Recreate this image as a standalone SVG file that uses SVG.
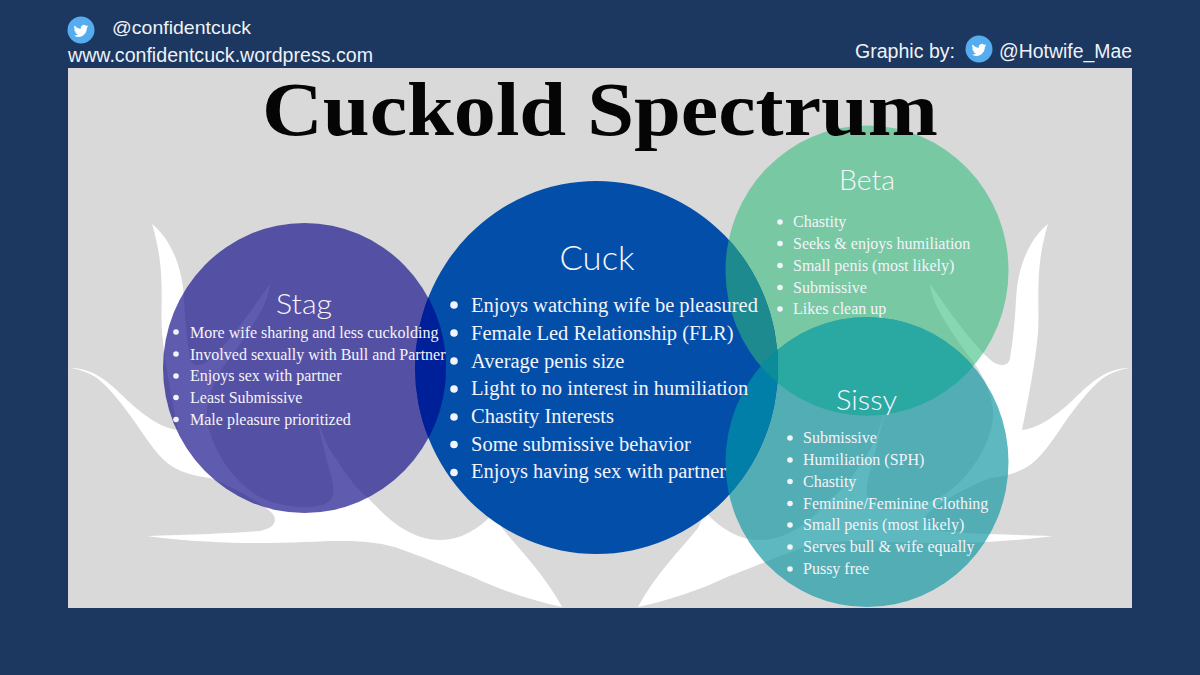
<svg xmlns="http://www.w3.org/2000/svg" width="1200" height="675" viewBox="0 0 1200 675">
  <style>
    .head { font-family: "Liberation Sans", Arial, sans-serif; fill: #eef2f8; }
    .title { font-family: "Liberation Serif", "Times New Roman", serif; font-weight: 700; fill: #050505; font-size: 76px; }
    .name { font-family: Lato, "Open Sans", sans-serif; font-weight: 300; fill: #f6f6fb; text-anchor: middle; }
    .item { font-family: "Liberation Serif", "Times New Roman", serif; fill: #f3f4fa; }
    .sm { font-size: 16px; }
    .lg { font-size: 20.5px; }
    .dot { fill: #f3f4fa; }
    .tw { fill: #55acee; }
    .bird { fill: #ffffff; }
  </style>
  <defs>
    <path id="antler" d="M152 224 C172 240 183 270 184 300 C185 320 187 340 190 358 C191 366 199 367 207 362 C228 345 255 305 270 284 C268 305 250 330 232 355 C215 375 203 405 208 425 C213 450 235 485 262 498 C280 507 310 510 325 504 C335 499 335 490 331 475 C327 462 318 425 312 397 C318 425 325 445 337 460 C348 478 358 490 367 497 C380 510 405 540 440 540 C460 540 478 530 495 512 C498 518 500 525 502 528 C520 550 545 575 562 607 C530 600 500 590 473 577 C450 568 420 556 403 550 C385 543 365 541 343 541 C300 541 240 548 147 536 C190 535 240 533 260 531 C275 528 278 520 272 513 C262 504 240 490 210 478 C195 476 183 473 173 467 C160 459 150 444 137 425 C125 408 112 390 97 378 C88 372 78 369 70 368 C92 368 107 380 127 400 C142 414 160 428 178 430 C172 400 165 365 162 333 C160 300 166 270 152 224 Z"/>
    <path id="bird" d="M23.953 4.57a10 10 0 01-2.825.775 4.958 4.958 0 002.163-2.723c-.951.555-2.005.959-3.127 1.184a4.92 4.92 0 00-8.384 4.482C7.69 8.095 4.067 6.13 1.64 3.162a4.822 4.822 0 00-.666 2.475c0 1.71.87 3.213 2.188 4.096a4.904 4.904 0 01-2.228-.616v.06a4.923 4.923 0 003.946 4.827 4.996 4.996 0 01-2.212.085 4.936 4.936 0 004.604 3.417 9.867 9.867 0 01-6.102 2.105c-.39 0-.779-.023-1.17-.067a13.995 13.995 0 007.557 2.209c9.053 0 13.998-7.496 13.998-13.985 0-.21 0-.42-.015-.63A9.935 9.935 0 0024 4.59z"/>
    <clipPath id="in-cuck"><ellipse cx="596.5" cy="367.5" rx="181.5" ry="186.5"/></clipPath>
    <clipPath id="in-beta"><ellipse cx="867" cy="270.5" rx="141.5" ry="145"/></clipPath>
  </defs>

  <rect width="1200" height="675" fill="#1c3760"/>
  <rect x="68" y="68" width="1064" height="540" fill="#d9d9d9"/>

  <!-- mirrored antlers behind the circles -->
  <g id="antlers" fill="#ffffff">
    <use href="#antler"/>
    <use href="#antler" transform="matrix(-1 0 0 1 1200 0)"/>
  </g>

  <g id="credit-left">
    <circle class="tw" cx="81" cy="30" r="13.5"/>
    <use href="#bird" class="bird" transform="translate(73.5 23.5) scale(.62)"/>
    <text class="head" x="112" y="34" font-size="18.5" textLength="139" lengthAdjust="spacingAndGlyphs">@confidentcuck</text>
    <text class="head" x="68" y="62" font-size="19.8" textLength="305" lengthAdjust="spacingAndGlyphs">www.confidentcuck.wordpress.com</text>
  </g>
  <g id="credit-right">
    <text class="head" x="855" y="58" font-size="19.5" textLength="100" lengthAdjust="spacingAndGlyphs">Graphic by:</text>
    <circle class="tw" cx="979" cy="49" r="13.5"/>
    <use href="#bird" class="bird" transform="translate(971.5 42.5) scale(.62)"/>
    <text class="head" x="999" y="58" font-size="19.5" textLength="133" lengthAdjust="spacingAndGlyphs">@Hotwife_Mae</text>
  </g>

  <g id="beta">
    <ellipse cx="867" cy="270.5" rx="141.5" ry="145" fill="#37bc80" fill-opacity=".6"/>
    <text class="name" x="867" y="190" font-size="27" textLength="56" lengthAdjust="spacingAndGlyphs">Beta</text>
    <g class="dot">
      <circle cx="780" cy="222" r="2.8"/><circle cx="780" cy="243.5" r="2.8"/><circle cx="780" cy="265.5" r="2.8"/><circle cx="780" cy="287.5" r="2.8"/><circle cx="780" cy="309" r="2.8"/>
    </g>
    <g class="item sm">
      <text x="793" y="227">Chastity</text>
      <text x="793" y="249">Seeks &amp; enjoys humiliation</text>
      <text x="793" y="270.5">Small penis (most likely)</text>
      <text x="793" y="292.5">Submissive</text>
      <text x="793" y="314">Likes clean up</text>
    </g>
  </g>

  <g id="sissy">
    <ellipse cx="867" cy="462" rx="141.5" ry="145" fill="#1a9aa4" fill-opacity=".7"/>
    <g clip-path="url(#in-beta)">
      <ellipse cx="867" cy="462" rx="141.5" ry="145" fill="#2aa9a2"/>
    </g>
    <text class="name" x="866.5" y="410" font-size="27" textLength="61" lengthAdjust="spacingAndGlyphs">Sissy</text>
    <g class="dot">
      <circle cx="790" cy="438" r="2.8"/><circle cx="790" cy="460" r="2.8"/><circle cx="790" cy="481.5" r="2.8"/><circle cx="790" cy="503.5" r="2.8"/><circle cx="790" cy="525" r="2.8"/><circle cx="790" cy="547" r="2.8"/><circle cx="790" cy="569" r="2.8"/>
    </g>
    <g class="item sm">
      <text x="803" y="443">Submissive</text>
      <text x="803" y="465">Humiliation (SPH)</text>
      <text x="803" y="486.5">Chastity</text>
      <text x="803" y="508.5">Feminine/Feminine Clothing</text>
      <text x="803" y="530">Small penis (most likely)</text>
      <text x="803" y="552">Serves bull &amp; wife equally</text>
      <text x="803" y="574">Pussy free</text>
    </g>
  </g>

  <g id="cuck">
    <ellipse cx="596.5" cy="367.5" rx="181.5" ry="186.5" fill="#034ea9"/>
    <!-- where the two teal circles cross this one -->
    <g clip-path="url(#in-cuck)">
      <ellipse cx="867" cy="270.5" rx="141.5" ry="145" fill="#1c8a8f"/>
      <ellipse cx="867" cy="462" rx="141.5" ry="145" fill="#017fa8"/>
      <g clip-path="url(#in-beta)">
        <ellipse cx="867" cy="462" rx="141.5" ry="145" fill="#0c8c98"/>
      </g>
    </g>
    <text class="name" x="597" y="270" font-size="34" textLength="75" lengthAdjust="spacingAndGlyphs">Cuck</text>
    <g class="dot">
      <circle cx="454" cy="305" r="3.8"/><circle cx="454" cy="333" r="3.8"/><circle cx="454" cy="361" r="3.8"/><circle cx="454" cy="389" r="3.8"/><circle cx="454" cy="417" r="3.8"/><circle cx="454" cy="444.5" r="3.8"/><circle cx="454" cy="472.5" r="3.8"/>
    </g>
    <g class="item lg">
      <text x="471" y="312">Enjoys watching wife be pleasured</text>
      <text x="471" y="339.5">Female Led Relationship (FLR)</text>
      <text x="471" y="367.5">Average penis size</text>
      <text x="471" y="395">Light to no interest in humiliation</text>
      <text x="471" y="423">Chastity Interests</text>
      <text x="471" y="450.5">Some submissive behavior</text>
      <text x="471" y="478">Enjoys having sex with partner</text>
    </g>
  </g>

  <g id="stag">
    <ellipse cx="304.5" cy="368" rx="141.5" ry="145" fill="#1b158c" fill-opacity=".7"/>
    <g clip-path="url(#in-cuck)">
      <ellipse cx="304.5" cy="368" rx="141.5" ry="145" fill="#00209a"/>
    </g>
    <text class="name" x="304" y="314" font-size="28" textLength="56" lengthAdjust="spacingAndGlyphs">Stag</text>
    <g class="dot">
      <circle cx="176" cy="332" r="2.8"/><circle cx="176" cy="354" r="2.8"/><circle cx="176" cy="376" r="2.8"/><circle cx="176" cy="397.5" r="2.8"/><circle cx="176" cy="419.5" r="2.8"/>
    </g>
    <g class="item sm">
      <text x="190" y="337.5">More wife sharing and less cuckolding</text>
      <text x="190" y="359.5">Involved sexually with Bull and Partner</text>
      <text x="190" y="381">Enjoys sex with partner</text>
      <text x="190" y="403">Least Submissive</text>
      <text x="190" y="424.5">Male pleasure prioritized</text>
    </g>
  </g>

  <text id="title" class="title" x="262" y="135" textLength="676" lengthAdjust="spacingAndGlyphs">Cuckold Spectrum</text>
</svg>
